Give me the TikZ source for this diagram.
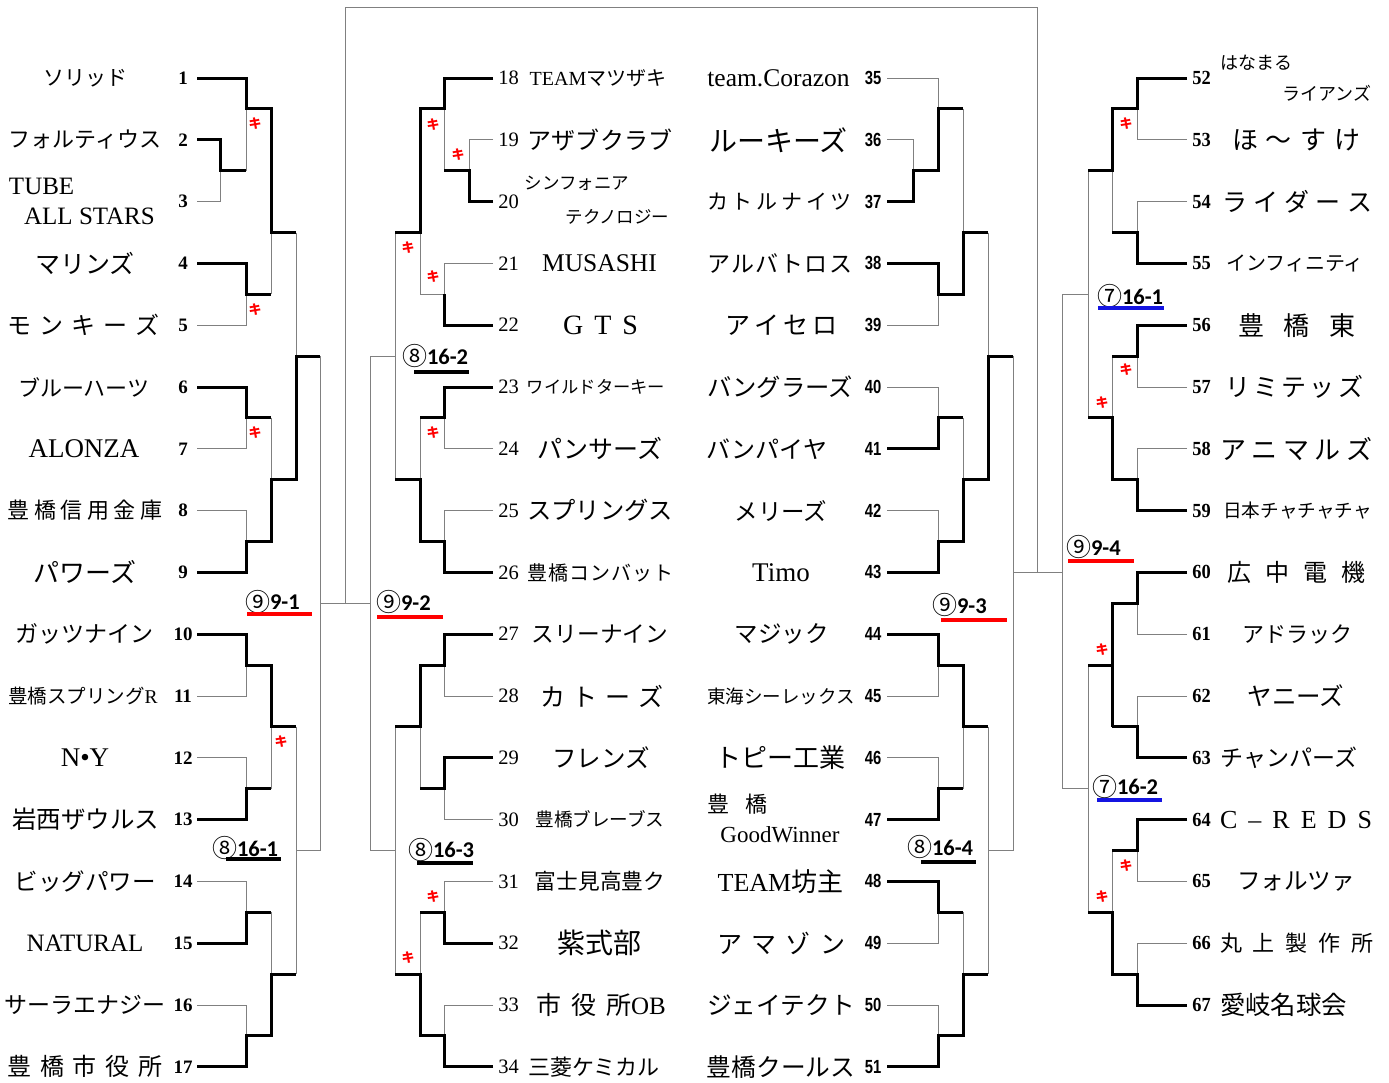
\documentclass[tikz,border=0pt]{standalone}
\usepackage{fontspec}
\usepackage{graphicx}
\setmainfont{Liberation Serif}
\newfontfamily\jp{Noto Sans CJK JP}
\newfontfamily\lab{Carlito}
\newfontfamily\nsans{Liberation Sans}
\definecolor{lgray}{RGB}{128,128,128}
\definecolor{bbar}{RGB}{20,20,225}
\newcommand\myfs[1]{\fontsize{#1pt}{#1pt}\selectfont}
\newcommand\circd[1]{{\jp\mdseries\myfs{25}\raisebox{-1.5pt}{#1}}}
\def\mysp#1#2{\makebox[#1pt]{\myspA#2\relax}}
\def\myspA#1{#1\myspB}
\def\myspB#1{\ifx\relax#1\else\hfill#1\expandafter\myspB\fi}
\begin{document}
\begin{tikzpicture}[x=1pt,y=-30.9pt,
  every node/.style={inner sep=0pt,outer sep=0pt},
  nm/.style={font=\jp},
  nl/.style={font=\rmfamily},
  thk/.style={line width=3pt,line join=miter,draw=black},
  thn/.style={line width=1pt,draw=lgray},
  numL/.style={font=\bfseries\myfs{19}},
  numML/.style={font=\myfs{20.5}},
  numMR/.style={font=\nsans\bfseries\myfs{19}},
  numR/.style={font=\bfseries\myfs{20}},
  lbl/.style={font=\lab\bfseries\myfs{22.5},anchor=west},
  ki/.style={font=\jp\bfseries\myfs{13},text=red},
  redbar/.style={line width=4pt,draw=red},
  blkbar/.style={line width=4pt,draw=black},
  blubar/.style={line width=4pt,draw=bbar}]
\useasboundingbox (0,-2.5243) rectangle (1389,32.492);
\fill[white] (0,-2.5243) rectangle (1389,32.492);

% ---------- thin lines ----------
\draw[thn] (197,4)--(220,4)--(220,3);
\draw[thn] (246,1)--(246,3);
\draw[thn] (197,8)--(246,8)--(246,7);
\draw[thn] (271,5)--(271,7);
\draw[thn] (197,12)--(246,12)--(246,11);
\draw[thn] (197,14)--(246,14)--(246,15);
\draw[thn] (271,11)--(271,13);
\draw[thn] (296,5)--(296,9);
\draw[thn] (197,20)--(246,20)--(246,19);
\draw[thn] (197,22)--(246,22)--(246,23);
\draw[thn] (271,21)--(271,23);
\draw[thn] (197,26)--(246,26)--(246,27);
\draw[thn] (197,30)--(246,30)--(246,31);
\draw[thn] (271,27)--(271,29);
\draw[thn] (296,21)--(296,29);
\draw[thn] (296,25)--(320,25);
\draw[thn] (320,9)--(320,25);
\draw[thn] (320,17)--(370,17);
\draw[thn] (345,17)--(345,-2.2977)--(1037,-2.2977)--(1037,16);
% mid-left
\draw[thn] (493,2)--(469,2)--(469,3);
\draw[thn] (444,1)--(444,3);
\draw[thn] (420,5)--(420,7);
\draw[thn] (493,6)--(444,6)--(444,7)--(420,7);
\draw[thn] (493,12)--(444,12)--(444,11);
\draw[thn] (493,14)--(444,14)--(444,15);
\draw[thn] (420,11)--(420,13);
\draw[thn] (395,5)--(395,13);
\draw[thn] (395,9)--(370,9);
\draw[thn] (493,20)--(444,20)--(444,19);
\draw[thn] (420,21)--(420,23);
\draw[thn] (493,24)--(444,24)--(444,23);
\draw[thn] (493,26)--(444,26)--(444,27);
\draw[thn] (420,27)--(420,29);
\draw[thn] (493,30)--(444,30)--(444,31);
\draw[thn] (395,21)--(395,29);
\draw[thn] (395,25)--(370,25);
\draw[thn] (370,9)--(370,25);
% mid-right
\draw[thn] (887,0)--(938,0)--(938,1);
\draw[thn] (887,2)--(913,2)--(913,3);
\draw[thn] (963,1)--(963,5);
\draw[thn] (887,8)--(938,8)--(938,7);
\draw[thn] (988,5)--(988,9);
\draw[thn] (887,10)--(938,10)--(938,11);
\draw[thn] (887,14)--(938,14)--(938,15);
\draw[thn] (963,11)--(963,13);
\draw[thn] (887,20)--(938,20)--(938,19);
\draw[thn] (963,21)--(963,23);
\draw[thn] (887,22)--(938,22)--(938,23);
\draw[thn] (887,28)--(938,28)--(938,27);
\draw[thn] (963,27)--(963,29);
\draw[thn] (887,30)--(938,30)--(938,31);
\draw[thn] (988,21)--(988,29);
\draw[thn] (988,25)--(1013,25);
\draw[thn] (1013,9)--(1013,25);
\draw[thn] (1013,16)--(1062,16);
% right
\draw[thn] (1187,2)--(1137,2)--(1137,1);
\draw[thn] (1112,3)--(1112,5);
\draw[thn] (1187,4)--(1137,4)--(1137,5);
\draw[thn] (1088,3)--(1088,11);
\draw[thn] (1088,7)--(1062,7);
\draw[thn] (1187,10)--(1137,10)--(1137,9);
\draw[thn] (1112,9)--(1112,11);
\draw[thn] (1187,12)--(1137,12)--(1137,13);
\draw[thn] (1187,18)--(1137,18)--(1137,17);
\draw[thn] (1187,20)--(1137,20)--(1137,21);
\draw[thn] (1088,19)--(1088,27);
\draw[thn] (1088,23)--(1062,23);
\draw[thn] (1187,26)--(1137,26)--(1137,25);
\draw[thn] (1112,25)--(1112,27);
\draw[thn] (1187,28)--(1137,28)--(1137,29);
\draw[thn] (1062,7)--(1062,23);

% ---------- thick lines ----------
\draw[thk] (197,0)--(246,0)--(246,1)--(271,1)--(271,5)--(296,5);
\draw[thk] (197,2)--(220,2)--(220,3)--(246,3);
\draw[thk] (197,6)--(246,6)--(246,7)--(271,7);
\draw[thk] (197,10)--(246,10)--(246,11)--(271,11);
\draw[thk] (197,16)--(246,16)--(246,15)--(271,15)--(271,13)--(296,13)--(296,9)--(320,9);
\draw[thk] (197,18)--(246,18)--(246,19)--(271,19)--(271,21)--(296,21);
\draw[thk] (197,24)--(246,24)--(246,23)--(271,23);
\draw[thk] (197,28)--(246,28)--(246,27)--(271,27);
\draw[thk] (197,32)--(246,32)--(246,31)--(271,31)--(271,29)--(296,29);
% mid-left
\draw[thk] (493,0)--(444,0)--(444,1)--(420,1)--(420,5)--(395,5);
\draw[thk] (493,4)--(469,4)--(469,3)--(444,3);
\draw[thk] (493,8)--(444,8)--(444,7);
\draw[thk] (493,10)--(444,10)--(444,11)--(420,11);
\draw[thk] (493,16)--(444,16)--(444,15)--(420,15)--(420,13)--(395,13);
\draw[thk] (493,18)--(444,18)--(444,19)--(420,19)--(420,21)--(395,21);
\draw[thk] (493,22)--(444,22)--(444,23)--(420,23);
\draw[thk] (493,28)--(444,28)--(444,27)--(420,27);
\draw[thk] (493,32)--(444,32)--(444,31)--(420,31)--(420,29)--(395,29);
% mid-right
\draw[thk] (887,4)--(913,4)--(913,3)--(938,3)--(938,1)--(963,1);
\draw[thk] (887,6)--(938,6)--(938,7)--(963,7)--(963,5)--(988,5);
\draw[thk] (887,12)--(938,12)--(938,11)--(963,11);
\draw[thk] (887,16)--(938,16)--(938,15)--(963,15)--(963,13)--(988,13)--(988,9)--(1013,9);
\draw[thk] (887,18)--(938,18)--(938,19)--(963,19)--(963,21)--(988,21);
\draw[thk] (887,24)--(938,24)--(938,23)--(963,23);
\draw[thk] (887,26)--(938,26)--(938,27)--(963,27);
\draw[thk] (887,32)--(938,32)--(938,31)--(963,31)--(963,29)--(988,29);
% right
\draw[thk] (1187,0)--(1137,0)--(1137,1)--(1112,1)--(1112,3)--(1088,3);
\draw[thk] (1187,6)--(1137,6)--(1137,5)--(1112,5);
\draw[thk] (1187,8)--(1137,8)--(1137,9)--(1112,9);
\draw[thk] (1187,14)--(1137,14)--(1137,13)--(1112,13)--(1112,11)--(1088,11);
\draw[thk] (1187,16)--(1137,16)--(1137,17)--(1112,17)--(1112,21);
\draw[thk] (1112,19)--(1088,19);
\draw[thk] (1187,22)--(1137,22)--(1137,21)--(1112,21);
\draw[thk] (1187,24)--(1137,24)--(1137,25)--(1112,25);
\draw[thk] (1187,30)--(1137,30)--(1137,29)--(1112,29)--(1112,27)--(1088,27);

% ---------- numbers ----------
\foreach \i in {1,...,17} \node[numL] (k\i) at (183,{2*(\i-1)}) {\i};
\foreach \i in {18,...,34} \node[numML] (k\i) at (508.5,{2*(\i-18)}) {\i};
\foreach \i in {35,...,51} \node[numMR] (k\i) at (873,{2*(\i-35)}) {\scalebox{0.78}[1]{\i}};
\foreach \i in {52,...,67} \node[numR] (k\i) at (1201.5,{2*(\i-52)}) {\scalebox{0.92}[1]{\i}};

% ---------- names: left ----------
\node[nm] (n1) at (85,0) {\myfs{21}ソリッド};
\node[nm] (n2) at (85,2) {\myfs{22}フォルティウス};
\node[nl,anchor=west] (n3a) at (9,3.5) {\myfs{25}TUBE};
\node[nl] (n3b) at (89.5,4.47) {\myfs{25}ALL STARS};
\node[nm] (n4) at (85,6) {\myfs{25}マリンズ};
\node[nm] (n5) at (84,8) {\myfs{24}\mysp{152}{モンキーズ}};
\node[nm] (n6) at (84,10) {\myfs{22}ブルーハーツ};
\node[nl] (n7) at (84,12) {\myfs{27}ALONZA};
\node[nm] (n8) at (85,14) {\myfs{22}\mysp{155}{豊橋信用金庫}};
\node[nm] (n9) at (85,16) {\myfs{26}パワーズ};
\node[nm] (n10) at (85,18) {\myfs{23}ガッツナイン};
\node[nm] (n11) at (83,20) {\myfs{19.5}豊橋スプリング{\rmfamily R}};
\node[nl] (n12) at (85,22) {\myfs{27}N•Y};
\node[nm] (n13) at (86,24) {\myfs{24.5}岩西ザウルス};
\node[nm] (n14) at (85,26) {\myfs{23.5}ビッグパワー};
\node[nl] (n15) at (85,28) {\myfs{25}NATURAL};
\node[nm] (n16) at (85,30) {\myfs{23}サーラエナジー};
\node[nm] (n17) at (85,32) {\myfs{24}\mysp{155}{豊橋市役所}};

% ---------- names: mid-left ----------
\node[nm] (n18) at (598,0) {\myfs{20}{\rmfamily TEAM}マツザキ};
\node[nm] (n19) at (600,2) {\myfs{24}\mysp{146}{アザブクラブ}};
\node[nm] (n20a) at (577,3.4) {\myfs{17.5}シンフォニア};
\node[nm] (n20b) at (617.5,4.5) {\myfs{17.5}テクノロジー};
\node[nl] (n21) at (599.5,6) {\myfs{25.5}MUSASHI};
\node[nl] (n22) at (600.5,8) {\myfs{28}\mysp{75}{GTS}};
\node[nm] (n23) at (596,10) {\myfs{17.3}ワイルドターキー};
\node[nm] (n24) at (600,12) {\myfs{25}パンサーズ};
\node[nm] (n25) at (600,14) {\myfs{24.3}スプリングス};
\node[nm] (n26) at (600,16) {\myfs{20}\mysp{146}{豊橋コンバット}};
\node[nm] (n27) at (600,18) {\myfs{22.7}スリーナイン};
\node[nm] (n28) at (601.5,20) {\myfs{25}\mysp{123}{カトーズ}};
\node[nm] (n29) at (601,22) {\myfs{24.5}フレンズ};
\node[nm] (n30) at (600,24) {\myfs{18.6}豊橋ブレーブス};
\node[nm] (n31) at (600,26) {\myfs{21.7}富士見高豊ク};
\node[nm] (n32) at (599.5,28) {\myfs{28}紫式部};
\node[nm] (n33) at (601,30) {\myfs{25}市\hspace{10pt}役\hspace{10pt}所{\rmfamily OB}};
\node[nm] (n34) at (594,32) {\myfs{22}三菱ケミカル};

% ---------- names: mid-right ----------
\node[nl] (n35) at (778.5,0) {\myfs{25.5}team.Corazon};
\node[nm] (n36) at (778.5,2) {\myfs{28}ルーキーズ};
\node[nm] (n37) at (779.5,4) {\myfs{21}\mysp{145}{カトルナイツ}};
\node[nm] (n38) at (779.5,6) {\myfs{23}\mysp{145}{アルバトロス}};
\node[nm] (n39) at (781,8) {\myfs{25}\mysp{112}{アイセロ}};
\node[nm] (n40) at (780,10) {\myfs{24.3}バングラーズ};
\node[nm] (n41) at (767,12) {\myfs{24}バンパイヤ};
\node[nm] (n42) at (781,14) {\myfs{23.5}メリーズ};
\node[nl] (n43) at (781,16) {\myfs{27}Timo};
\node[nm] (n44) at (781.5,18) {\myfs{23.5}マジック};
\node[nm] (n45) at (781,20) {\myfs{18.5}東海シーレックス};
\node[nm] (n46) at (780,22) {\myfs{26}トピー工業};
\node[nm] (n47a) at (737,23.5) {\myfs{22}\mysp{60}{豊橋}};
\node[nl] (n47b) at (780,24.5) {\myfs{23}GoodWinner};
\node[nm] (n48) at (780.5,26) {\myfs{26}{\rmfamily TEAM}坊主};
\node[nm] (n49) at (781,28) {\myfs{25}\mysp{128}{アマゾン}};
\node[nm] (n50) at (781,30) {\myfs{24.7}ジェイテクト};
\node[nm] (n51) at (781,32) {\myfs{24.7}豊橋クールス};

% ---------- names: right ----------
\node[nm] (n52a) at (1256,-0.49) {\myfs{18}はなまる};
\node[nm] (n52b) at (1327,0.49) {\myfs{18}ライアンズ};
\node[nm] (n53) at (1296,2) {\myfs{26}\mysp{128}{ほ～すけ}};
\node[nm] (n54) at (1297,4) {\myfs{25}\mysp{150}{ライダース}};
\node[nm] (n55) at (1295,6) {\myfs{20}インフィニティ};
\node[nm] (n56) at (1296.5,8) {\myfs{26}\mysp{117}{豊橋東}};
\node[nm] (n57) at (1294,10) {\myfs{25}\mysp{138}{リミテッズ}};
\node[nm] (n58) at (1296,12) {\myfs{26}\mysp{152}{アニマルズ}};
\node[nm] (n59) at (1297.5,14) {\myfs{18.6}日本チャチャチャ};
\node[nm] (n60) at (1296,16) {\myfs{24}\mysp{138}{広中電機}};
\node[nm] (n61) at (1297,18) {\myfs{22}アドラック};
\node[nm] (n62) at (1296,20) {\myfs{24.5}ヤニーズ};
\node[nm] (n63) at (1289,22) {\myfs{23}チャンパーズ};
\node[nl] (n64) at (1296,24) {\myfs{26}\mysp{152}{C–REDS}};
\node[nm] (n65) at (1296,26) {\myfs{23.6}フォルツァ};
\node[nm] (n66) at (1296.5,28) {\myfs{22}\mysp{153}{丸上製作所}};
\node[nm] (n67) at (1283.5,30) {\myfs{25.4}愛岐名球会};

% ---------- round labels ----------
\node[lbl] (L91) at (245,16.95) {\circd{⑨}9-1};
\draw[redbar] (247,17.35)--(312,17.35);
\node[lbl] (L161) at (212,24.93) {\circd{⑧}16-1};
\draw[blkbar] (226,25.27)--(281,25.27);
\node[lbl] (L92) at (376,16.97) {\circd{⑨}9-2};
\draw[redbar] (377,17.44)--(443,17.44);
\node[lbl] (L162) at (402,9.01) {\circd{⑧}16-2};
\draw[blkbar] (414,9.51)--(469,9.51);
\node[lbl] (L163) at (408,24.97) {\circd{⑧}16-3};
\draw[blkbar] (417,25.40)--(473,25.40);
\node[lbl] (L164) at (907,24.90) {\circd{⑧}16-4};
\draw[blkbar] (921,25.37)--(976,25.37);
\node[lbl] (L93) at (932,17.07) {\circd{⑨}9-3};
\draw[redbar] (941,17.54)--(1007,17.54);
\node[lbl] (L71) at (1097,7.07) {\circd{⑦}16-1};
\draw[blubar] (1098,7.44)--(1164,7.44);
\node[lbl] (L94) at (1066,15.19) {\circd{⑨}9-4};
\draw[redbar] (1068,15.63)--(1134,15.63);
\node[lbl] (L72) at (1092,22.93) {\circd{⑦}16-2};
\draw[blubar] (1097,23.37)--(1162,23.37);

% ---------- forfeit marks ----------
\node[ki] (q1) at (255,1.49) {キ};
\node[ki] (q2) at (255,7.51) {キ};
\node[ki] (q3) at (255,11.49) {キ};
\node[ki] (q4) at (281,21.49) {キ};
\node[ki] (q5) at (433,1.52) {キ};
\node[ki] (q6) at (458,2.49) {キ};
\node[ki] (q7) at (408,5.50) {キ};
\node[ki] (q8) at (433,6.44) {キ};
\node[ki] (q9) at (433,11.49) {キ};
\node[ki] (q10) at (433,26.50) {キ};
\node[ki] (q11) at (408,28.48) {キ};
\node[ki] (q12) at (1126,1.49) {キ};
\node[ki] (q13) at (1126,9.45) {キ};
\node[ki] (q14) at (1102,10.49) {キ};
\node[ki] (q15) at (1102,18.51) {キ};
\node[ki] (q16) at (1126,25.50) {キ};
\node[ki] (q17) at (1102,26.50) {キ};
\end{tikzpicture}
\end{document}
